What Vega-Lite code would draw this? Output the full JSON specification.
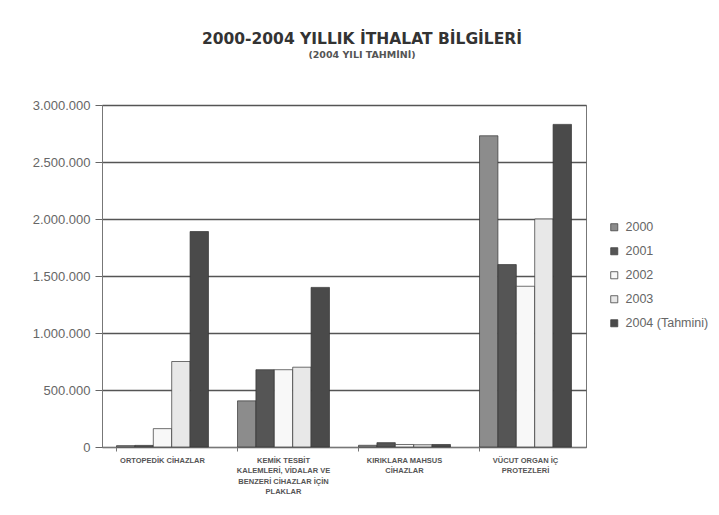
{
  "$schema": "https://vega.github.io/schema/vega-lite/v6.json",
  "autosize": "none",
  "width": 484,
  "height": 342,
  "padding": {"left": 102, "top": 105, "right": 133, "bottom": 68},
  "background": "#ffffff",
  "title": {
    "text": "2000-2004 YILLIK İTHALAT BİLGİLERİ",
    "subtitle": "(2004 YILI TAHMİNİ)",
    "font": "DejaVu Sans",
    "fontSize": 15.5,
    "fontWeight": "bold",
    "color": "#333333",
    "subtitleFont": "DejaVu Sans",
    "subtitleFontSize": 9.5,
    "subtitleFontWeight": "bold",
    "subtitleColor": "#555555",
    "subtitlePadding": 2,
    "anchor": "middle",
    "dx": 18,
    "offset": 40
  },
  "config": {
    "view": {"stroke": "#777777", "strokeWidth": 1},
    "font": "Liberation Sans"
  },
  "data": {
    "values": [
      {"kategori": "ORTOPEDİK CİHAZLAR", "yil": "2000", "deger": 12000},
      {"kategori": "ORTOPEDİK CİHAZLAR", "yil": "2001", "deger": 14000},
      {"kategori": "ORTOPEDİK CİHAZLAR", "yil": "2002", "deger": 161000},
      {"kategori": "ORTOPEDİK CİHAZLAR", "yil": "2003", "deger": 750000},
      {"kategori": "ORTOPEDİK CİHAZLAR", "yil": "2004 (Tahmini)", "deger": 1890000},
      {"kategori": "KEMİK TESBİT|KALEMLERİ, VİDALAR VE|BENZERİ CİHAZLAR İÇİN|PLAKLAR", "yil": "2000", "deger": 405000},
      {"kategori": "KEMİK TESBİT|KALEMLERİ, VİDALAR VE|BENZERİ CİHAZLAR İÇİN|PLAKLAR", "yil": "2001", "deger": 678000},
      {"kategori": "KEMİK TESBİT|KALEMLERİ, VİDALAR VE|BENZERİ CİHAZLAR İÇİN|PLAKLAR", "yil": "2002", "deger": 678000},
      {"kategori": "KEMİK TESBİT|KALEMLERİ, VİDALAR VE|BENZERİ CİHAZLAR İÇİN|PLAKLAR", "yil": "2003", "deger": 700000},
      {"kategori": "KEMİK TESBİT|KALEMLERİ, VİDALAR VE|BENZERİ CİHAZLAR İÇİN|PLAKLAR", "yil": "2004 (Tahmini)", "deger": 1400000},
      {"kategori": "KIRIKLARA MAHSUS|CİHAZLAR", "yil": "2000", "deger": 15000},
      {"kategori": "KIRIKLARA MAHSUS|CİHAZLAR", "yil": "2001", "deger": 38000},
      {"kategori": "KIRIKLARA MAHSUS|CİHAZLAR", "yil": "2002", "deger": 22000},
      {"kategori": "KIRIKLARA MAHSUS|CİHAZLAR", "yil": "2003", "deger": 20000},
      {"kategori": "KIRIKLARA MAHSUS|CİHAZLAR", "yil": "2004 (Tahmini)", "deger": 22000},
      {"kategori": "VÜCUT ORGAN İÇ|PROTEZLERİ", "yil": "2000", "deger": 2730000},
      {"kategori": "VÜCUT ORGAN İÇ|PROTEZLERİ", "yil": "2001", "deger": 1600000},
      {"kategori": "VÜCUT ORGAN İÇ|PROTEZLERİ", "yil": "2002", "deger": 1410000},
      {"kategori": "VÜCUT ORGAN İÇ|PROTEZLERİ", "yil": "2003", "deger": 2000000},
      {"kategori": "VÜCUT ORGAN İÇ|PROTEZLERİ", "yil": "2004 (Tahmini)", "deger": 2830000}
    ]
  },
  "mark": {"type": "bar", "stroke": "#333333", "strokeWidth": 0.7},
  "encoding": {
    "x": {
      "field": "kategori",
      "type": "nominal",
      "sort": null,
      "scale": {"paddingInner": 0.24, "paddingOuter": 0.12},
      "axis": {
        "title": null,
        "labelAngle": 0,
        "labelExpr": "split(datum.label, '|')",
        "labelFontSize": 7.5,
        "labelFontWeight": "bold",
        "labelColor": "#555555",
        "labelLineHeight": 10.5,
        "labelPadding": 5,
        "labelBaseline": "top",
        "domainColor": "#777777",
        "tickColor": "#777777",
        "tickSize": 4,
        "ticks": true,
        "bandPosition": 0
      }
    },
    "xOffset": {"field": "yil", "type": "nominal", "sort": null},
    "y": {
      "field": "deger",
      "type": "quantitative",
      "scale": {"domain": [0, 3000000], "nice": false},
      "axis": {
        "title": null,
        "values": [0, 500000, 1000000, 1500000, 2000000, 2500000, 3000000],
        "labelExpr": "replace(format(datum.value, ',d'), /,/g, '.')",
        "labelFontSize": 13,
        "labelColor": "#666666",
        "labelPadding": 5,
        "tickSize": 7,
        "tickColor": "#666666",
        "domainColor": "#777777",
        "gridColor": "#555555",
        "gridWidth": 1.3,
        "gridOpacity": 1
      }
    },
    "fill": {
      "field": "yil",
      "type": "nominal",
      "sort": null,
      "scale": {
        "domain": ["2000", "2001", "2002", "2003", "2004 (Tahmini)"],
        "range": ["#8c8c8c", "#555555", "#f8f8f8", "#e8e8e8", "#4a4a4a"]
      },
      "legend": {
        "title": null,
        "orient": "none",
        "legendX": 506,
        "legendY": 116,
        "symbolType": "square",
        "symbolSize": 50,
        "symbolStrokeColor": "#444444",
        "symbolStrokeWidth": 0.8,
        "labelFontSize": 12.5,
        "labelColor": "#666666",
        "rowPadding": 11,
        "labelOffset": 5
      }
    }
  }
}
